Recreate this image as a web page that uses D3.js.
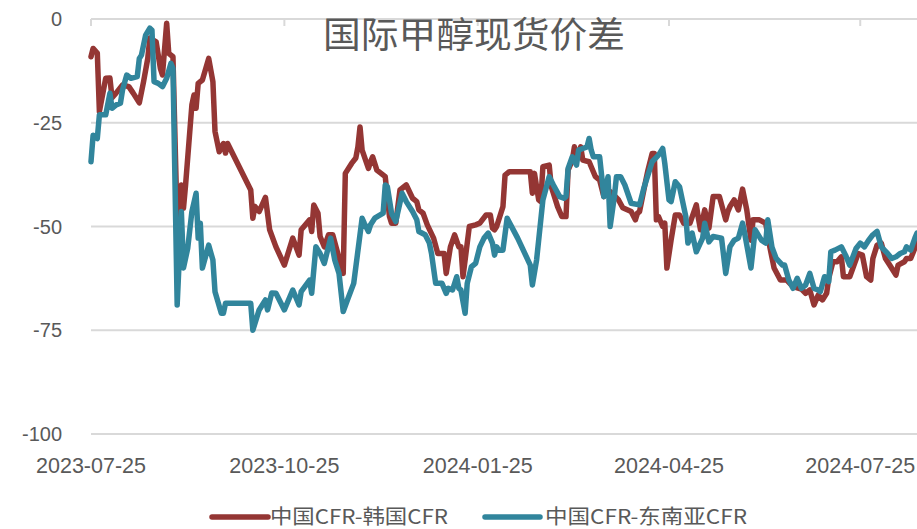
<!DOCTYPE html>
<html><head><meta charset="utf-8">
<script src="https://cdn.jsdelivr.net/npm/d3@7"></script>
<style>body{margin:0;background:#fff}svg{display:block}</style>
</head><body>
<svg id="chart" width="917" height="529"></svg>
<script>
const title = "国际甲醇现货价差";
const seriesNames = ["中国CFR-韩国CFR", "中国CFR-东南亚CFR"];
const seriesColors = ["#943634", "#31859c"];
const yTicks = [0, -25, -50, -75, -100];
const xTickLabels = ["2023-07-25", "2023-10-25", "2024-01-25", "2024-04-25", "2024-07-25"];

const koreaDates = ["2023-07-25","2023-07-26","2023-07-28","2023-07-29","2023-08-01","2023-08-03","2023-08-04","2023-08-06","2023-08-09","2023-08-12","2023-08-14","2023-08-17","2023-08-19","2023-08-21","2023-08-22","2023-08-25","2023-08-27","2023-08-28","2023-08-30","2023-08-31","2023-09-02","2023-09-04","2023-09-06","2023-09-07","2023-09-08","2023-09-11","2023-09-12","2023-09-13","2023-09-14","2023-09-16","2023-09-19","2023-09-21","2023-09-22","2023-09-24","2023-09-26","2023-09-27","2023-09-28","2023-10-09","2023-10-10","2023-10-11","2023-10-13","2023-10-16","2023-10-18","2023-10-21","2023-10-25","2023-10-29","2023-11-01","2023-11-02","2023-11-06","2023-11-07","2023-11-08","2023-11-10","2023-11-11","2023-11-13","2023-11-15","2023-11-17","2023-11-22","2023-11-23","2023-11-26","2023-11-28","2023-11-29","2023-11-30","2023-12-01","2023-12-04","2023-12-05","2023-12-06","2023-12-08","2023-12-10","2023-12-12","2023-12-14","2023-12-15","2023-12-17","2023-12-19","2023-12-22","2023-12-25","2023-12-27","2023-12-28","2023-12-30","2024-01-01","2024-01-04","2024-01-06","2024-01-09","2024-01-10","2024-01-12","2024-01-14","2024-01-16","2024-01-17","2024-01-18","2024-01-21","2024-01-24","2024-01-26","2024-01-29","2024-01-31","2024-02-01","2024-02-02","2024-02-03","2024-02-06","2024-02-07","2024-02-09","2024-02-19","2024-02-20","2024-02-21","2024-02-23","2024-02-24","2024-02-25","2024-02-28","2024-02-29","2024-03-03","2024-03-05","2024-03-07","2024-03-08","2024-03-10","2024-03-11","2024-03-12","2024-03-14","2024-03-15","2024-03-18","2024-03-21","2024-03-23","2024-03-25","2024-03-27","2024-03-29","2024-04-01","2024-04-03","2024-04-07","2024-04-09","2024-04-10","2024-04-11","2024-04-14","2024-04-15","2024-04-17","2024-04-18","2024-04-19","2024-04-20","2024-04-22","2024-04-23","2024-04-24","2024-04-26","2024-04-28","2024-04-30","2024-05-02","2024-05-05","2024-05-08","2024-05-09","2024-05-10","2024-05-12","2024-05-14","2024-05-16","2024-05-19","2024-05-22","2024-05-23","2024-05-24","2024-05-26","2024-05-28","2024-05-30","2024-06-01","2024-06-03","2024-06-04","2024-06-07","2024-06-10","2024-06-12","2024-06-14","2024-06-17","2024-06-20","2024-06-23","2024-06-27","2024-06-29","2024-07-01","2024-07-03","2024-07-05","2024-07-07","2024-07-09","2024-07-10","2024-07-12","2024-07-14","2024-07-16","2024-07-17","2024-07-20","2024-07-24","2024-07-26","2024-07-28","2024-07-30","2024-07-31","2024-08-02","2024-08-04","2024-08-06","2024-08-08","2024-08-11","2024-08-12","2024-08-15","2024-08-16","2024-08-18","2024-08-21"];
const koreaValues = [-9.1,-7.1,-8.2,-22.3,-14.3,-14.2,-19,-17.8,-15.9,-16.3,-17.8,-20.2,-15.1,-9.5,-4.6,-5.5,-11.9,-13.5,-1.0,-8.3,-9.1,-49.6,-40,-45.6,-40,-20.7,-18.3,-21.5,-15.5,-14.7,-9.5,-15.1,-27.1,-32,-30,-32.3,-30,-41.2,-48,-45.2,-46.4,-43,-50.8,-54.9,-59.3,-52.8,-56.9,-50.8,-48.4,-51.2,-44.8,-46.8,-52.4,-54.9,-52,-52,-61.3,-37.2,-34.8,-33.5,-30.8,-26,-31.6,-36,-34.4,-33.2,-36.4,-37.2,-38,-47.6,-49.2,-49.2,-41.2,-40,-43.2,-44,-46,-46.8,-49.6,-52.8,-56.5,-56.5,-61.3,-54.9,-52,-54.9,-54.9,-62.1,-50,-49.6,-49.2,-47.2,-47.2,-50.4,-50.8,-50,-45.2,-37.6,-36.8,-36.8,-42,-37.2,-43.6,-44,-35.6,-35.2,-40.4,-45.2,-47.6,-47.6,-36.4,-34,-30.8,-34,-30.8,-34,-34.4,-38,-38.8,-42.8,-41.2,-42,-43.6,-45.5,-46.4,-48.4,-46.8,-46.4,-38.8,-36.4,-32.4,-32.4,-48.4,-47.6,-50,-49.2,-60,-53.3,-47.2,-47.2,-49.2,-49.2,-44.8,-48,-50.8,-46,-50.4,-42.8,-42.8,-48.4,-46.4,-45.2,-43.6,-46,-41,-46,-53.3,-48.4,-48.4,-49.2,-55,-60,-62.9,-62.9,-64.5,-65.1,-66.1,-65.3,-68.9,-66.5,-67.7,-66.1,-62.5,-58.5,-58.5,-57.3,-62.1,-62.1,-56.5,-56.9,-62.1,-62.9,-57.7,-54.5,-54,-57.7,-59.3,-61.7,-59.3,-58.5,-57.7,-57.7,-54];

const seaDates = ["2023-07-25","2023-07-26","2023-07-28","2023-07-29","2023-08-01","2023-08-03","2023-08-04","2023-08-06","2023-08-08","2023-08-09","2023-08-11","2023-08-13","2023-08-16","2023-08-17","2023-08-18","2023-08-20","2023-08-22","2023-08-23","2023-08-24","2023-08-26","2023-08-28","2023-08-30","2023-09-01","2023-09-02","2023-09-04","2023-09-06","2023-09-07","2023-09-09","2023-09-11","2023-09-13","2023-09-14","2023-09-15","2023-09-16","2023-09-19","2023-09-21","2023-09-22","2023-09-25","2023-09-26","2023-09-27","2023-10-09","2023-10-10","2023-10-13","2023-10-16","2023-10-17","2023-10-19","2023-10-21","2023-10-25","2023-10-29","2023-11-01","2023-11-02","2023-11-06","2023-11-07","2023-11-09","2023-11-11","2023-11-13","2023-11-16","2023-11-18","2023-11-20","2023-11-22","2023-11-24","2023-11-27","2023-12-01","2023-12-02","2023-12-04","2023-12-05","2023-12-07","2023-12-11","2023-12-12","2023-12-13","2023-12-15","2023-12-17","2023-12-20","2023-12-22","2023-12-25","2023-12-27","2023-12-28","2023-12-31","2024-01-02","2024-01-03","2024-01-05","2024-01-08","2024-01-10","2024-01-11","2024-01-13","2024-01-15","2024-01-16","2024-01-17","2024-01-19","2024-01-20","2024-01-22","2024-01-24","2024-01-26","2024-01-28","2024-01-30","2024-02-01","2024-02-02","2024-02-03","2024-02-04","2024-02-06","2024-02-08","2024-02-13","2024-02-19","2024-02-20","2024-02-22","2024-02-25","2024-02-28","2024-03-01","2024-03-04","2024-03-06","2024-03-07","2024-03-08","2024-03-10","2024-03-12","2024-03-13","2024-03-15","2024-03-17","2024-03-18","2024-03-19","2024-03-20","2024-03-23","2024-03-25","2024-03-27","2024-03-28","2024-03-30","2024-03-31","2024-04-02","2024-04-04","2024-04-07","2024-04-11","2024-04-13","2024-04-17","2024-04-20","2024-04-22","2024-04-23","2024-04-25","2024-04-26","2024-04-28","2024-04-30","2024-05-03","2024-05-04","2024-05-06","2024-05-08","2024-05-11","2024-05-12","2024-05-14","2024-05-16","2024-05-20","2024-05-22","2024-05-24","2024-05-26","2024-05-28","2024-05-30","2024-05-31","2024-06-03","2024-06-05","2024-06-08","2024-06-10","2024-06-11","2024-06-13","2024-06-15","2024-06-18","2024-06-19","2024-06-21","2024-06-23","2024-06-25","2024-06-27","2024-06-29","2024-07-01","2024-07-03","2024-07-05","2024-07-06","2024-07-08","2024-07-10","2024-07-11","2024-07-13","2024-07-16","2024-07-18","2024-07-20","2024-07-23","2024-07-25","2024-07-27","2024-07-29","2024-07-31","2024-08-02","2024-08-04","2024-08-07","2024-08-09","2024-08-11","2024-08-13","2024-08-15","2024-08-16","2024-08-18","2024-08-20","2024-08-21"];
const seaValues = [-34.4,-28,-28.8,-23.1,-23.1,-17.9,-21.5,-20.7,-20.3,-17.1,-13.5,-14.3,-13.9,-9.5,-8.7,-3.9,-2.2,-2.7,-15.1,-15.5,-16.3,-14.3,-10.7,-11.9,-68.9,-46.4,-60,-55.3,-46.4,-42,-52.8,-49.2,-60,-54.5,-58.1,-65.7,-70.9,-70.9,-68.5,-68.5,-75,-70.1,-67.7,-70.1,-66,-66.1,-70.1,-65.3,-68.9,-65.7,-62.9,-66.1,-54.9,-56.5,-58.9,-52.8,-58.1,-61.3,-70.5,-67.7,-63.7,-48,-49.2,-51.2,-49.6,-48,-46.8,-40,-40.4,-46.8,-48.8,-42,-44,-46.4,-48.4,-51.2,-52,-54,-56.5,-63.7,-63.7,-66.1,-64.9,-65.3,-62.1,-64.9,-65.3,-70.9,-63.7,-59.7,-58.9,-54.9,-52.8,-51.6,-54,-56.9,-54.9,-55.7,-55.7,-48,-52.8,-59.3,-64.1,-58.1,-43.6,-38,-40,-42.8,-43.2,-42.8,-36,-33.2,-35.2,-31.6,-31.2,-30.8,-28.8,-31.6,-33.2,-33.2,-42.8,-38,-50,-42.8,-38,-38,-40,-44.4,-44.8,-40.8,-34.4,-32.8,-31.2,-34.8,-43.6,-44,-39.2,-40.4,-47.6,-54,-51.6,-56.1,-52.8,-49.2,-53.7,-52.4,-52.8,-61.3,-54.9,-53.3,-52.8,-49.2,-51.6,-60,-50.8,-53.3,-54,-48.4,-55,-57.7,-59.3,-59.3,-62.9,-64.9,-62.5,-64.9,-64.1,-61.3,-64.9,-65.3,-65.7,-62.1,-63.3,-56.1,-55.7,-54.9,-56.9,-59.3,-55.3,-54,-54.9,-53.3,-52,-51.2,-54.9,-56.5,-57.7,-57.3,-56.5,-56.1,-54.9,-55.7,-52.8,-51.6];

const parse = d3.utcParse("%Y-%m-%d");
const svg = d3.select("#chart");
const font = "'Liberation Sans','Noto Sans CJK SC',sans-serif";
const cjk = "'Noto Sans CJK SC','Liberation Sans',sans-serif";

const x = d3.scaleUtc().domain([parse("2023-07-25"), parse("2024-08-21")]).range([91, 917]);
const y = d3.scaleLinear().domain([-100, 0]).range([434, 19]);

// gridlines
svg.append("g").selectAll("line").data(yTicks).join("line")
  .attr("x1", 91).attr("x2", 917)
  .attr("y1", d => y(d)).attr("y2", d => y(d))
  .attr("stroke", "#d9d9d9").attr("stroke-width", 2);

// top category axis tick marks (axis crosses at 0)
const tickDates = xTickLabels.map(parse);
svg.append("g").selectAll("line").data(tickDates).join("line")
  .attr("x1", d => x(d)).attr("x2", d => x(d))
  .attr("y1", y(0)).attr("y2", y(0) + 7)
  .attr("stroke", "#d9d9d9").attr("stroke-width", 2);

// y labels
svg.append("g").selectAll("text").data(yTicks).join("text")
  .attr("x", 62).attr("y", d => y(d)).attr("dy", "0.35em")
  .attr("text-anchor", "end")
  .attr("font-family", font).attr("font-size", 20).attr("fill", "#595959")
  .text(d => d);

// x labels
svg.append("g").selectAll("text").data(tickDates).join("text")
  .attr("x", d => x(d)).attr("y", 473)
  .attr("text-anchor", "middle")
  .attr("font-family", font).attr("font-size", 22).attr("fill", "#595959")
  .attr("textLength", 110).attr("lengthAdjust", "spacingAndGlyphs")
  .text((d, i) => xTickLabels[i]);

// lines
const series = [
  koreaDates.map((d, i) => ({date: parse(d), value: koreaValues[i]})),
  seaDates.map((d, i) => ({date: parse(d), value: seaValues[i]}))
];
const line = d3.line().x(d => x(d.date)).y(d => y(d.value));
svg.append("defs").append("clipPath").attr("id", "clip")
  .append("rect").attr("x", 0).attr("y", 0).attr("width", 917).attr("height", 529);
svg.append("g").attr("clip-path", "url(#clip)").selectAll("path").data(series).join("path")
  .attr("d", line).attr("fill", "none")
  .attr("stroke", (d, i) => seriesColors[i]).attr("stroke-width", 5.5)
  .attr("stroke-linejoin", "round").attr("stroke-linecap", "round");

// title
svg.append("text").attr("x", 474).attr("y", 48).attr("text-anchor", "middle")
  .attr("font-family", cjk).attr("font-size", 36).attr("fill", "#595959")
  .attr("textLength", 302).attr("lengthAdjust", "spacingAndGlyphs")
  .text(title);

// legend
const legend = [
  {x1: 212, x2: 268, tx: 270, tw: 178},
  {x1: 485, x2: 540, tx: 545, tw: 202}
];
const lg = svg.append("g");
legend.forEach((l, i) => {
  lg.append("line").attr("x1", l.x1).attr("x2", l.x2).attr("y1", 517).attr("y2", 517)
    .attr("stroke", seriesColors[i]).attr("stroke-width", 5.5).attr("stroke-linecap", "round");
  lg.append("text").attr("x", l.tx).attr("y", 517).attr("dy", "0.36em")
    .attr("font-family", cjk).attr("font-size", 20).attr("fill", "#595959")
    .attr("textLength", l.tw).attr("lengthAdjust", "spacingAndGlyphs")
    .text(seriesNames[i]);
});
</script>
</body></html>
